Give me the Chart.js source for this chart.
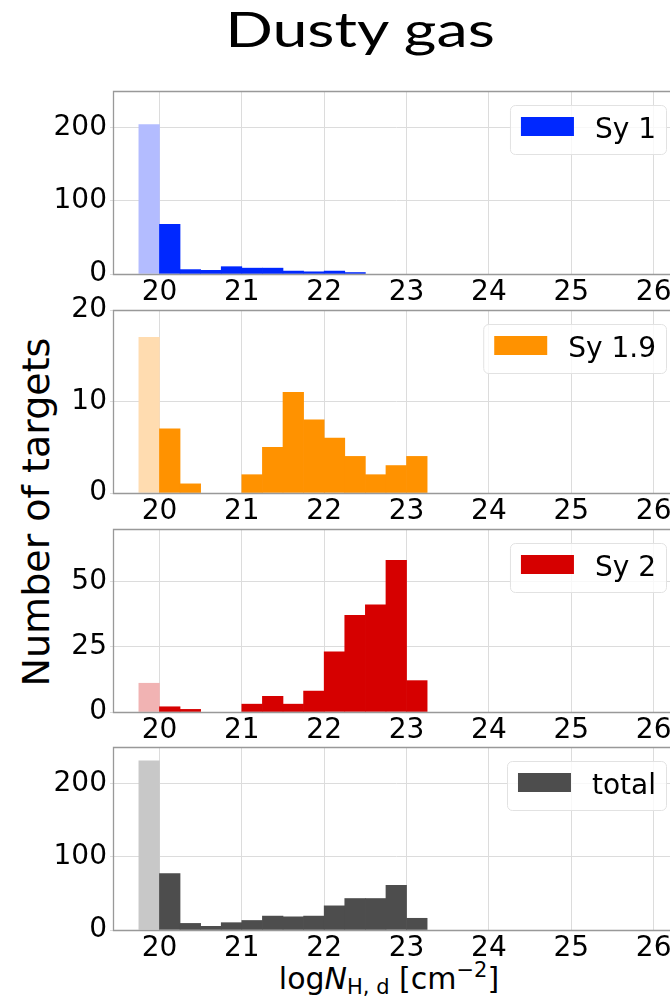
<!DOCTYPE html>
<html>
<head>
<meta charset="utf-8">
<script src="https://cdn.jsdelivr.net/npm/chart.js@4.4.1/dist/chart.umd.min.js"></script>
<style>
  body { margin: 0; width: 670px; height: 997px; overflow: hidden; background: #fff; position: relative; font-family: "DejaVu Sans", sans-serif; }
  .panel { position: absolute; left: 0; width: 690px; height: 248px; }
  #title { position: absolute; left: 360px; top: 4px; font-family: Lato, sans-serif; font-size: 49px; line-height: 1; white-space: nowrap; transform: translateX(-50%) scaleX(1.28); color: #000; }
  #ylabel { position: absolute; left: 36px; top: 512px; font-size: 38px; line-height: 1; white-space: nowrap; transform: translate(-50%, -50%) rotate(-90deg); color: #000; }
  #xlabel { position: absolute; left: 389px; top: 960px; font-size: 30px; line-height: 1; white-space: nowrap; transform: translateX(-50%); color: #000; }
  #xlabel sub { font-size: 70%; vertical-align: -0.25em; }
  #xlabel sup { font-size: 70%; vertical-align: 0.55em; }
</style>
</head>
<body>
<div id="title">Dusty gas</div>
<div id="ylabel">Number of targets</div>
<div id="xlabel">log<i>N</i><sub>H, d</sub> [cm<sup>−2</sup>]</div>

<div class="panel" style="top:71px"><canvas id="chartSy1"></canvas></div>
<div class="panel" style="top:290px"><canvas id="chartSy19"></canvas></div>
<div class="panel" style="top:509px"><canvas id="chartSy2"></canvas></div>
<div class="panel" style="top:727px"><canvas id="chartTotal"></canvas></div>

<script>
// ビン中心 (logN_H,d, 幅0.25)
const binCenters = [19.875, 20.125, 20.375, 20.625, 20.875, 21.125, 21.375, 21.625, 21.875, 22.125, 22.375, 22.625, 22.875, 23.125];

// 各タイプの個数
const sy1Counts   = [204, 68, 6, 5, 10, 8, 8, 4, 3, 4, 2, 0, 0, 0];
const sy19Counts  = [17, 7, 1, 0, 0, 2, 5, 11, 8, 6, 4, 2, 3, 4];
const sy2Counts   = [11, 2, 1, 0, 0, 3, 6, 3, 8, 23, 37, 41, 58, 12];
const totalCounts = [231, 77, 9, 5, 10, 13, 19, 18, 19, 33, 43, 43, 61, 16];

// 目盛り
const xTicks     = [20, 21, 22, 23, 24, 25, 26];
const sy1Ticks   = [0, 100, 200];
const sy19Ticks  = [0, 10, 20];
const sy2Ticks   = [0, 25, 50];
const totalTicks = [0, 100, 200];

const panels = [
  { id: "chartSy1",   label: "Sy 1",   counts: sy1Counts,   ticks: sy1Ticks,   yMax: 250, color: "#0028ff", faded: "#b3bcff" },
  { id: "chartSy19",  label: "Sy 1.9", counts: sy19Counts,  ticks: sy19Ticks,  yMax: 20,  color: "#ff9200", faded: "#ffdcb0" },
  { id: "chartSy2",   label: "Sy 2",   counts: sy2Counts,   ticks: sy2Ticks,   yMax: 70,  color: "#d60000", faded: "#f1b3b3" },
  { id: "chartTotal", label: "total",  counts: totalCounts, ticks: totalTicks, yMax: 250, color: "#4d4d4d", faded: "#c8c8c8" }
];

const FONT = "DejaVu Sans";

// 枠線（上・左・下）
const framePlugin = {
  id: "frame",
  afterDatasetsDraw(chart) {
    const ctx = chart.ctx;
    const a = chart.chartArea;
    ctx.save();
    ctx.strokeStyle = "#999";
    ctx.lineWidth = 1.3;
    ctx.beginPath();
    ctx.moveTo(a.right, a.top + 0.5);
    ctx.lineTo(a.left + 0.5, a.top + 0.5);
    ctx.lineTo(a.left + 0.5, a.bottom + 0.5);
    ctx.lineTo(a.right, a.bottom + 0.5);
    ctx.stroke();
    ctx.restore();
  }
};

// 凡例ボックス（プロット内右上）
const legendBoxPlugin = {
  id: "legendBox",
  afterDraw(chart, args, opts) {
    const ctx = chart.ctx;
    const a = chart.chartArea;
    ctx.save();
    ctx.font = `28px "${FONT}"`;
    const tw = ctx.measureText(opts.label).width;
    const w = 11 + 53 + 21 + tw + 10;
    const h = 49;
    const x = a.right - 14 - w;
    const y = a.top + 14;
    ctx.beginPath();
    ctx.roundRect(x + 0.5, y + 0.5, w, h, 5);
    ctx.fillStyle = "rgba(255,255,255,0.8)";
    ctx.fill();
    ctx.strokeStyle = "#e2e2e2";
    ctx.lineWidth = 1;
    ctx.stroke();
    ctx.fillStyle = opts.color;
    ctx.fillRect(x + 11, y + 12, 53, 19);
    ctx.fillStyle = "#000";
    ctx.textBaseline = "middle";
    ctx.fillText(opts.label, x + 85, y + h / 2 + 1);
    ctx.restore();
  }
};

function makePanel(p) {
  const ctx = document.getElementById(p.id).getContext("2d");
  // 最初のビンは薄い色、空のビンは描かない
  const colors = p.counts.map((v, i) => {
    if (v === 0) return "rgba(0,0,0,0)";
    return i === 0 ? p.faded : p.color;
  });

  return new Chart(ctx, {
    type: "bar",
    data: {
      datasets: [{
        label: p.label,
        data: binCenters.map((x, i) => ({ x: x, y: p.counts[i] })),
        backgroundColor: colors,
        borderWidth: 0,
        barPercentage: 1,
        categoryPercentage: 1
      }]
    },
    options: {
      responsive: true,
      maintainAspectRatio: false,
      animation: false,
      layout: { padding: { top: 20, right: 10, left: 0, bottom: 0 } },
      plugins: {
        legend: { display: false },
        tooltip: { enabled: false },
        legendBox: { label: p.label, color: p.color }
      },
      scales: {
        x: {
          type: "linear",
          min: 19.436,
          max: 26.32,
          offset: false,
          afterBuildTicks: s => { s.ticks = xTicks.map(v => ({ value: v })); },
          afterFit: s => { s.height = 45; },
          grid: { color: "#dcdcdc", lineWidth: 1, drawTicks: false, offset: false },
          border: { display: false },
          ticks: { color: "#000", padding: 2, font: { family: FONT, size: 28 } }
        },
        y: {
          min: 0,
          max: p.yMax,
          afterBuildTicks: s => { s.ticks = p.ticks.map(v => ({ value: v })); },
          afterFit: s => { s.width = 113; },
          grid: { color: "#dcdcdc", lineWidth: 1, tickLength: 3 },
          border: { display: false },
          ticks: { color: "#000", padding: 3, font: { family: FONT, size: 28 } }
        }
      }
    },
    plugins: [framePlugin, legendBoxPlugin]
  });
}

panels.forEach(makePanel);
</script>
</body>
</html>
